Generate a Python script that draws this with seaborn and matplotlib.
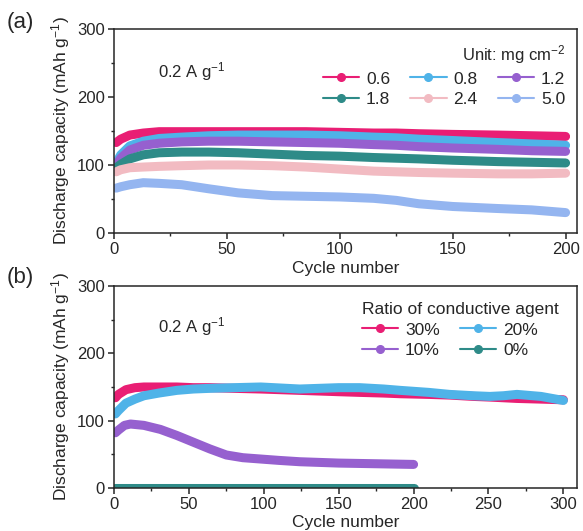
import numpy as np
import pandas as pd
import seaborn as sns
import matplotlib.pyplot as plt
from matplotlib.lines import Line2D
from matplotlib.ticker import MultipleLocator

# (a) mass loading series
cyc_a = [1, 3, 7, 13, 20, 30, 42, 55, 70, 85, 100, 115, 125, 135, 150, 170, 185, 200]
cap_06 = [133, 138, 144, 147, 149, 149, 149, 149, 149, 149, 148, 147, 147, 146, 145, 144, 143, 142]
cap_08 = [103, 115, 128, 135, 139, 141, 143, 144, 144, 144, 143, 141, 140, 138, 136, 133, 131, 129]
cap_12 = [100, 110, 122, 129, 132, 134, 135, 135, 134, 133, 132, 130, 129, 127, 125, 123, 121, 120]
cap_18 = [96, 101, 109, 115, 118, 119, 119, 118, 116, 114, 113, 111, 110, 109, 107, 105, 104, 103]
cap_24 = [90, 93, 96, 97, 98, 99, 100, 100, 99, 97, 94, 91, 90, 89, 88, 87, 87, 88]
cap_50 = [66, 68, 71, 74, 73, 71, 65, 59, 55, 54, 53, 51, 48, 43, 39, 36, 34, 30]
loads = ['0.6', '0.8', '1.2', '1.8', '2.4', '5.0']
colors_a = ['#E91E74', '#4FB3E8', '#9660CF', '#2E8B88', '#F2BBC2', '#94B5F0']

# (b) conductive agent ratio series
cyc_b_long = [1, 3, 8, 14, 20, 30, 42, 53, 64, 80, 98, 124, 150, 164, 180, 191,
              210, 224, 240, 251, 260, 269, 285, 300]
cap_30 = [134, 139, 146, 149, 150, 150, 150, 149, 149, 148, 147, 145, 143, 142, 141, 140,
          139, 138, 136, 135, 134, 133, 132, 131]
cap_20 = [110, 115, 126, 132, 137, 141, 145, 147, 148, 149, 150, 147, 149, 149, 147, 145,
          142, 139, 137, 136, 137, 139, 136, 130]
cyc_b_short = [1, 3, 7, 11, 20, 31, 42, 53, 64, 75, 86, 98, 110, 124, 150, 175, 200]
cap_10 = [82, 86, 93, 95, 93, 87, 78, 68, 58, 49, 45, 43, 41, 39, 37, 36, 35]
cap_00 = [0.5, 0.5, 0.5, 0.5, 0.5, 0.5, 0.5, 0.5, 0.5, 0.5, 0.5, 0.5, 0.5, 0.5, 0.5, 0.5, 0.5]
ratios = ['30%', '20%', '10%', '0%']
colors_b = ['#E91E74', '#4FB3E8', '#9660CF', '#2E8B88']

sns.set_style('ticks')
plt.rcParams['font.family'] = ['Liberation Sans', 'DejaVu Sans']
plt.rcParams['mathtext.fontset'] = 'custom'
plt.rcParams['mathtext.rm'] = 'Liberation Sans'
plt.rcParams['mathtext.it'] = 'Liberation Sans'
plt.rcParams['axes.linewidth'] = 1.1
plt.rcParams['xtick.direction'] = 'out'
plt.rcParams['ytick.direction'] = 'out'

df_a = pd.DataFrame({
    'cycle': cyc_a * 6,
    'cap': cap_06 + cap_08 + cap_12 + cap_18 + cap_24 + cap_50,
    'load': sum([[l] * len(cyc_a) for l in loads], []),
})
df_b = pd.DataFrame({
    'cycle': cyc_b_long * 2 + cyc_b_short * 2,
    'cap': cap_30 + cap_20 + cap_10 + cap_00,
    'ratio': [ratios[0]] * len(cyc_b_long) + [ratios[1]] * len(cyc_b_long)
             + [ratios[2]] * len(cyc_b_short) + [ratios[3]] * len(cyc_b_short),
})

fig = plt.figure(figsize=(5.83, 5.31), dpi=100)
ax1 = fig.add_axes([0.1955, 0.5612, 0.794, 0.3842])
ax2 = fig.add_axes([0.1955, 0.0810, 0.794, 0.3804])

sns.lineplot(data=df_a, x='cycle', y='cap', hue='load', palette=colors_a,
             hue_order=loads, linewidth=6.5, legend=False, sort=False, ax=ax1)
sns.lineplot(data=df_b, x='cycle', y='cap', hue='ratio', palette=colors_b,
             hue_order=ratios, linewidth=6.5, legend=False, sort=False, ax=ax2)
for ax in (ax1, ax2):
    for ln in ax.lines:
        ln.set_solid_capstyle('round')
        ln.set_solid_joinstyle('round')

ylab = 'Discharge capacity (mAh g$^{-1}$)'
for ax, xmax in ((ax1, 205), (ax2, 309)):
    ax.set_xlim(0, xmax)
    ax.set_ylim(0, 300)
    ax.xaxis.set_major_locator(MultipleLocator(50))
    ax.xaxis.set_minor_locator(MultipleLocator(25))
    ax.yaxis.set_major_locator(MultipleLocator(100))
    ax.yaxis.set_minor_locator(MultipleLocator(50))
    ax.tick_params(which='major', length=4, width=1.1, labelsize=12, pad=2.5)
    ax.tick_params(which='minor', length=2.5, width=1.0)
    ax.set_xlabel('Cycle number', fontsize=12.5, labelpad=2.5)
    ax.set_ylabel(ylab, fontsize=12.5, labelpad=4)

ax1.text(19.5, 237, '0.2 A g$^{-1}$', fontsize=12, va='center')
ax2.text(29.5, 240, '0.2 A g$^{-1}$', fontsize=12, va='center')

def handle(c):
    return Line2D([], [], color=c, marker='o', markersize=5.5, linewidth=1.5)

# column-first fill, so reorder to get row-wise reading
order_a = [0, 3, 1, 4, 2, 5]
leg1 = ax1.legend([handle(colors_a[i]) for i in order_a], [loads[i] for i in order_a],
                  ncol=3, title='Unit: mg cm$^{-2}$', loc='upper right',
                  bbox_to_anchor=(0.975, 0.93), frameon=False, fontsize=12.5,
                  title_fontsize=12, borderpad=0, borderaxespad=0, handlelength=2.1,
                  handletextpad=0.4, columnspacing=1.15, labelspacing=0.3,
                  alignment='right')

order_b = [0, 2, 1, 3]
leg2 = ax2.legend([handle(colors_b[i]) for i in order_b], [ratios[i] for i in order_b],
                  ncol=2, title='Ratio of conductive agent', loc='upper left',
                  bbox_to_anchor=(0.535, 0.92), frameon=False, fontsize=12.5,
                  title_fontsize=12.5, borderpad=0, borderaxespad=0, handlelength=2.1,
                  handletextpad=0.4, columnspacing=1.15, labelspacing=0.3,
                  alignment='left')

fig.text(0.012, 0.957, '(a)', fontsize=16, va='center')
fig.text(0.012, 0.478, '(b)', fontsize=16, va='center')

fig.savefig('out.png', dpi=100)
